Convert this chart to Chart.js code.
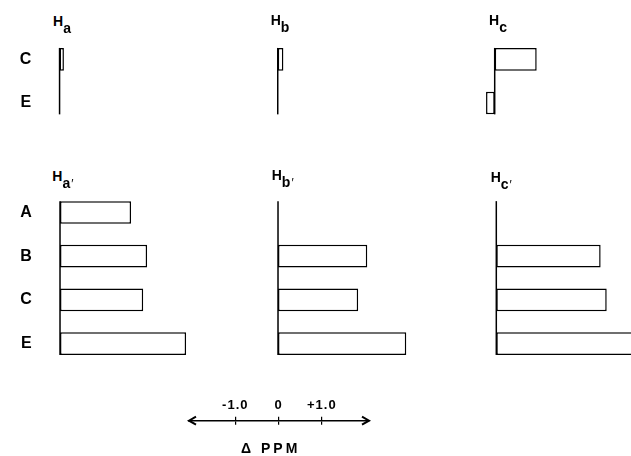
<!DOCTYPE html>
<html><head><meta charset="utf-8">
<script src="https://cdn.jsdelivr.net/npm/chart.js@4"></script>
<style>
html,body{margin:0;padding:0;background:#fff;}
#stage{position:relative;width:631px;height:456px;overflow:hidden;font-family:"Liberation Sans",Arial,sans-serif;color:#000;background:#fff;}
#stage canvas{position:absolute;}
.ttl{position:absolute;font-weight:bold;font-size:14px;line-height:14px;white-space:nowrap;}
.ttl .s{font-size:14px;position:relative;top:7px;}
.ttl .p{font-size:12px;font-weight:normal;padding-left:1px;}
#unit{position:absolute;font-weight:bold;font-size:14px;line-height:14px;letter-spacing:3px;white-space:nowrap;}
</style></head>
<body><div id="stage"></div>
<script>
// ---------- data ----------
const topCategories = ['C', 'E'];
const bottomCategories = ['A', 'B', 'C', 'E'];
const Ha = [0.10, 0];
const Hb = [0.13, 0];
const Hc = [0.97, -0.20];
const HaPrime = [1.64, 2.01, 1.92, 2.91];
const HbPrime = [0, 2.06, 1.85, 2.96];
const HcPrime = [0, 2.41, 2.55, 3.30];
const axisTicks = [-1, 0, 1];
const axisTickLabels = ['-1.0', '0', '+1.0'];
const unitLabel = 'Δ PPM';
const titleMain = ['H', 'H', 'H', 'H', 'H', 'H'];
const titleSub = ['a', 'b', 'c', 'a', 'b', 'c'];
const titlePrime = ['', '', '', '′', '′', '′'];

// ---------- layout ----------
const K = 43.3;          // px per ppm
const XMIN = -0.4;
const BAND = 43.7;
const stage = document.getElementById('stage');

const panels = [
  {values: Ha,      cats: topCategories,    base: 59.5,  top: 37.45,  labels: true,  tx: 53,    ty: 14},
  {values: Hb,      cats: topCategories,    base: 277.7, top: 37.45,  labels: false, tx: 270.7, ty: 13},
  {values: Hc,      cats: topCategories,    base: 494.7, top: 37.45,  labels: false, tx: 489,   ty: 13},
  {values: HaPrime, cats: bottomCategories, base: 60,    top: 190.65, labels: true,  tx: 52.3,  ty: 169},
  {values: HbPrime, cats: bottomCategories, base: 278,   top: 190.65, labels: false, tx: 271.7, ty: 168.4},
  {values: HcPrime, cats: bottomCategories, base: 496.3, top: 190.65, labels: false, tx: 490.7, ty: 170}
];

const baselinePlugin = {
  id: 'baseline',
  afterDatasetsDraw(chart) {
    const meta = chart.getDatasetMeta(0);
    const x = chart.scales.x.getPixelForValue(0);
    const first = meta.data[0], last = meta.data[meta.data.length - 1];
    const y1 = first.y - first.height / 2, y2 = last.y + last.height / 2;
    const ctx = chart.ctx;
    ctx.save();
    ctx.strokeStyle = '#000';
    ctx.lineWidth = 1.5;
    ctx.beginPath();
    ctx.moveTo(x, y1);
    ctx.lineTo(x, y2);
    ctx.stroke();
    ctx.restore();
  }
};

function makeCanvas(left, top, w, h) {
  const c = document.createElement('canvas');
  c.width = w; c.height = h;
  c.style.left = left + 'px'; c.style.top = top + 'px';
  c.style.width = w + 'px'; c.style.height = h + 'px';
  stage.appendChild(c);
  return c;
}

panels.forEach((p, i) => {
  const areaLeft = p.base + XMIN * K;
  const canvasLeft = p.labels ? 0 : Math.floor(areaLeft);
  const padLeft = p.labels ? 0 : areaLeft - canvasLeft;
  const labelW = p.labels ? areaLeft : 0;
  const rightEdge = (i % 3 === 2) ? 631 : areaLeft + 3.7 * K;
  const xmax = XMIN + (rightEdge - areaLeft) / K;
  const canvasTop = Math.floor(p.top - 3);
  const padTop = p.top - canvasTop;
  const areaH = p.cats.length * BAND;
  const h = Math.ceil(padTop + areaH + 3);
  const w = Math.ceil(rightEdge - canvasLeft);
  const c = makeCanvas(canvasLeft, canvasTop, w, h);
  new Chart(c, {
    type: 'bar',
    data: {
      labels: p.cats,
      datasets: [{
        data: p.values,
        backgroundColor: '#fff',
        borderColor: '#000',
        borderWidth: 1.5,
        borderSkipped: false,
        categoryPercentage: 1,
        barPercentage: 0.52
      }]
    },
    options: {
      indexAxis: 'y',
      responsive: false,
      animation: false,
      devicePixelRatio: 1,
      layout: {padding: {left: padLeft, top: padTop, right: 0, bottom: h - padTop - areaH}},
      plugins: {legend: {display: false}, tooltip: {enabled: false}},
      scales: {
        x: {type: 'linear', display: false, min: XMIN, max: xmax},
        y: {
          type: 'category',
          display: p.labels,
          afterFit: s => { s.width = labelW; s.paddingTop = 0; s.paddingBottom = 0; },
          grid: {display: false, drawTicks: false},
          border: {display: false},
          ticks: {color: '#000', padding: 11, font: {family: '"Liberation Sans", Arial, sans-serif', size: 16, weight: 'bold'}}
        }
      }
    },
    plugins: [baselinePlugin]
  });

  const t = document.createElement('div');
  t.className = 'ttl';
  t.style.left = p.tx + 'px';
  t.style.top = p.ty + 'px';
  t.innerHTML = titleMain[i] + '<span class="s">' + titleSub[i] +
    (titlePrime[i] ? '<span class="p">' + titlePrime[i] + '</span>' : '') + '</span>';
  stage.appendChild(t);
});

// ---------- Δ PPM axis ----------
const AX_MIN = -2.07, AX_MAX = 2.09;
const arrowPlugin = {
  id: 'arrows',
  beforeDraw(chart) { chart.ctx.letterSpacing = '1px'; },
  afterDraw(chart) {
    const ctx = chart.ctx;
    const y = chart.chartArea.top;
    const xs = chart.scales.x;
    const xl = xs.getPixelForValue(AX_MIN), xr = xs.getPixelForValue(AX_MAX);
    ctx.save();
    ctx.strokeStyle = '#000';
    ctx.lineWidth = 2;
    ctx.lineJoin = 'miter';
    ctx.beginPath();
    ctx.moveTo(xl + 7, y - 4); ctx.lineTo(xl, y); ctx.lineTo(xl + 7, y + 4);
    ctx.moveTo(xr - 7, y - 4); ctx.lineTo(xr, y); ctx.lineTo(xr - 7, y + 4);
    ctx.stroke();
    ctx.restore();
  }
};
const ac = makeCanvas(179, 390, 200, 66);
new Chart(ac, {
  type: 'scatter',
  data: {datasets: []},
  options: {
    responsive: false,
    animation: false,
    devicePixelRatio: 1,
    layout: {padding: {left: 10, right: 10, top: 0, bottom: 31.3}},
    plugins: {legend: {display: false}, tooltip: {enabled: false}},
    scales: {
      x: {
        type: 'linear', position: 'top', min: AX_MIN, max: AX_MAX,
        afterBuildTicks: s => { s.ticks = axisTicks.map(v => ({value: v})); },
        afterFit: s => { s.height = 30.7; },
        ticks: {
          autoSkip: false, maxRotation: 0, padding: 3, color: '#000',
          font: {family: '"Liberation Sans", Arial, sans-serif', size: 13, weight: 'bold'},
          callback: v => axisTickLabels[axisTicks.indexOf(v)]
        },
        grid: {color: '#000', lineWidth: 1.2, tickLength: 4, drawOnChartArea: true},
        border: {display: true, color: '#000', width: 1.5}
      },
      y: {display: false, min: 0, max: 1}
    }
  },
  plugins: [arrowPlugin]
});

const u = document.createElement('div');
u.id = 'unit';
u.style.left = '241px';
u.style.top = '441.3px';
u.textContent = unitLabel;
stage.appendChild(u);
</script>
</body></html>
